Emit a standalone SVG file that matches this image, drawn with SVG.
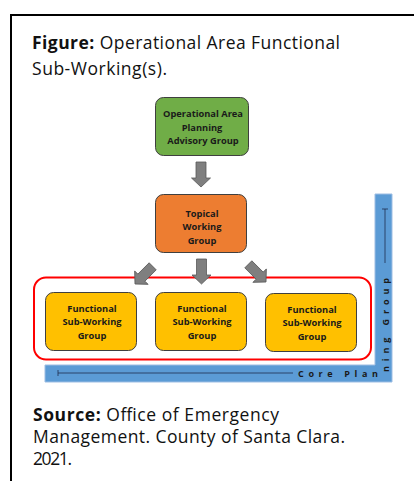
<svg xmlns="http://www.w3.org/2000/svg" width="414" height="481" viewBox="0 0 414 481">
  <defs>
    <style>
      .cap { font-family: "Open Sans", "Liberation Sans", sans-serif; font-size: 17.5px; fill: #111; }
      .b { font-weight: bold; }
      .nt { font-family: "Open Sans", "Liberation Sans", sans-serif; font-size: 9.3px; font-weight: bold; fill: #1a1a1a; text-anchor: middle; }
      .box { stroke: #3f3f3f; stroke-width: 1; }
      .green { fill: #70AD47; }
      .orange { fill: #ED7D31; }
      .yellow { fill: #FFC000; }
      .arrow { fill: #7F7F7F; stroke: #595959; stroke-width: 0.8; }
      .band { fill: #5B9BD5; stroke: #9DBDE3; stroke-width: 1; }
      .bandline { stroke: #1F2F4F; stroke-width: 0.8; fill: none; }
      .bandtext { font-family: "Open Sans", "Liberation Sans", sans-serif; font-size: 9px; font-weight: bold; fill: #1a1a1a; }
    </style>
    <path id="arr" d="M -5 -25 L 5 -25 L 5 -9 L 9.5 -9 L 0 0 L -9.5 -9 L -5 -9 Z"/>
  </defs>

  <rect x="0" y="0" width="414" height="481" fill="#ffffff"/>

  <!-- frame -->
  <path d="M 11 481 L 11 15 L 414 15" fill="none" stroke="#000" stroke-width="2"/>

  <!-- caption -->
  <text class="cap" x="32" y="49" textLength="308"><tspan class="b">Figure:</tspan> Operational Area Functional</text>
  <text class="cap" x="32" y="75" textLength="135">Sub-Working(s).</text>

  <!-- Core Planning Group band -->
  <g id="core-planning-group">
    <path class="band" d="M 375 194 L 392 194 L 392 382 L 45 382 L 45 365 L 375 365 Z"/>
    <path class="bandline" d="M 58 373 L 293 373 M 58 370 L 58 376 M 385 209 L 385 263 M 382 209 L 388 209"/>
    <text class="bandtext" x="298" y="376.5" textLength="80">Core Plan</text>
    <text class="bandtext" transform="translate(388.5,372) rotate(-90)" x="0" y="0" textLength="94">ning Group</text>
  </g>

  <!-- container for functional sub-working groups -->
  <g id="functional-container">
    <rect x="34" y="277.5" width="337" height="82" rx="12" fill="none" stroke="#FF0000" stroke-width="2"/>
  </g>

  <!-- connectors -->
  <g id="connectors">
    <use href="#arr" class="arrow" transform="translate(201,187)"/>
    <use href="#arr" class="arrow" transform="translate(201.5,284)"/>
    <use href="#arr" class="arrow" transform="translate(135,284) rotate(45)"/>
    <use href="#arr" class="arrow" transform="translate(266,282) rotate(-45)"/>
  </g>

  <g id="node-planning-advisory">
    <rect class="box green" x="155.5" y="97.5" width="93" height="58" rx="8"/>
    <text class="nt" x="203" y="116.5">Operational Area</text>
    <text class="nt" x="202" y="130.5">Planning</text>
    <text class="nt" x="203" y="144">Advisory Group</text>
  </g>

  <g id="node-topical-working">
    <rect class="box orange" x="155.5" y="194.5" width="91" height="58" rx="8"/>
    <text class="nt" x="202" y="216.5">Topical</text>
    <text class="nt" x="202" y="230">Working</text>
    <text class="nt" x="202" y="243.5">Group</text>
  </g>

  <g id="node-functional-1">
    <rect class="box yellow" x="45.5" y="292.5" width="91" height="58" rx="8"/>
    <text class="nt" x="92" y="311.5">Functional</text>
    <text class="nt" x="92" y="325">Sub-Working</text>
    <text class="nt" x="92" y="338.5">Group</text>
  </g>

  <g id="node-functional-2">
    <rect class="box yellow" x="155.5" y="292.5" width="91" height="58" rx="8"/>
    <text class="nt" x="202" y="311.5">Functional</text>
    <text class="nt" x="202" y="325">Sub-Working</text>
    <text class="nt" x="202" y="338.5">Group</text>
  </g>

  <g id="node-functional-3">
    <rect class="box yellow" x="265.5" y="293.5" width="91" height="58" rx="8"/>
    <text class="nt" x="312" y="312.5">Functional</text>
    <text class="nt" x="312" y="326">Sub-Working</text>
    <text class="nt" x="312" y="339.5">Group</text>
  </g>

  <!-- source -->
  <text class="cap" x="33" y="421" textLength="246"><tspan class="b">Source:</tspan> Office of Emergency</text>
  <text class="cap" x="33" y="443" textLength="312">Management. County of Santa Clara.</text>
  <text class="cap" x="33" y="465" textLength="39">2021.</text>
</svg>
